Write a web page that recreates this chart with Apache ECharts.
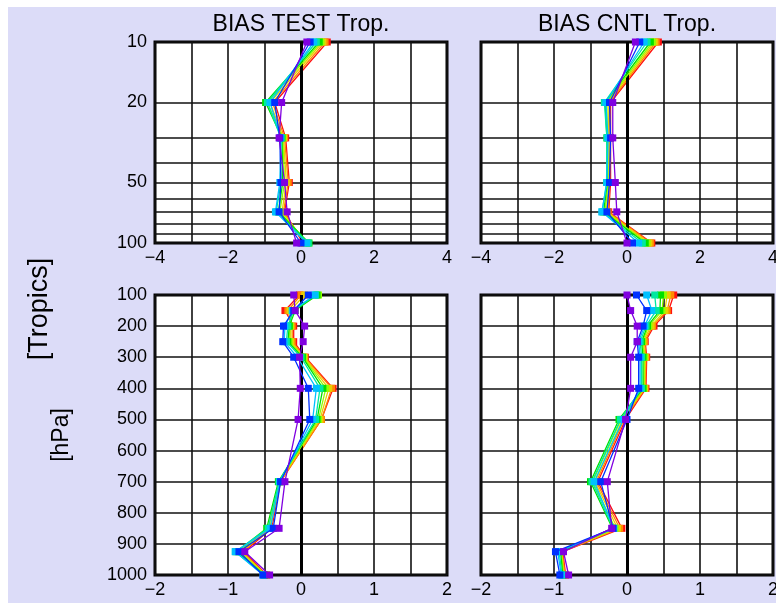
<!DOCTYPE html>
<html>
<head>
<meta charset="utf-8">
<script src="https://cdn.jsdelivr.net/npm/echarts@6/dist/echarts.min.js"></script>
<style>
html,body{margin:0;padding:0;background:#fff;}
#bg{position:absolute;left:8px;top:7px;width:768px;height:596px;background:#dcdcf8;}
#chart{position:absolute;left:0;top:0;width:776px;height:603px;}
</style>
</head>
<body>
<div id="bg"></div>
<div id="chart"></div>
<script>
// Pressure levels (hPa)
const P_UPPER = [10, 20, 30, 50, 70, 100];
const P_LOWER = [100, 150, 200, 250, 300, 400, 500, 700, 850, 925, 1000];

// Tick labels
const UPPER_Y_LABELS = [10, 20, 50, 100];
const UPPER_Y_GRID = [10, 20, 30, 40, 50, 60, 70, 80, 90, 100];

// Series (red ... purple), values = bias at each level
const TEST_UPPER = [
  [0.72, -0.72, -0.42, -0.32, -0.45, 0.05],
  [0.66, -0.78, -0.45, -0.35, -0.48, 0.10],
  [0.60, -0.85, -0.48, -0.40, -0.52, 0.15],
  [0.55, -0.92, -0.50, -0.45, -0.58, 0.18],
  [0.50, -0.97, -0.52, -0.50, -0.62, 0.22],
  [0.42, -0.92, -0.55, -0.55, -0.68, 0.20],
  [0.35, -0.85, -0.55, -0.58, -0.70, 0.15],
  [0.25, -0.72, -0.58, -0.55, -0.60, 0.00],
  [0.16, -0.53, -0.60, -0.45, -0.38, -0.12]
];
const CNTL_UPPER = [
  [0.86, -0.45, -0.45, -0.45, -0.50, 0.68],
  [0.80, -0.48, -0.47, -0.48, -0.52, 0.65],
  [0.75, -0.52, -0.50, -0.50, -0.56, 0.60],
  [0.70, -0.56, -0.53, -0.52, -0.60, 0.55],
  [0.64, -0.60, -0.55, -0.54, -0.64, 0.50],
  [0.55, -0.62, -0.55, -0.56, -0.68, 0.42],
  [0.47, -0.58, -0.52, -0.55, -0.69, 0.32],
  [0.35, -0.48, -0.45, -0.48, -0.55, 0.15],
  [0.23, -0.39, -0.39, -0.32, -0.28, 0.00]
];
const TEST_LOWER = [
  [-0.02, -0.22, -0.10, -0.10, 0.06, 0.44, 0.28, -0.28, -0.40, -0.78, -0.47],
  [0.00, -0.18, -0.12, -0.12, 0.05, 0.42, 0.28, -0.28, -0.42, -0.80, -0.48],
  [0.05, -0.15, -0.14, -0.14, 0.04, 0.38, 0.26, -0.29, -0.43, -0.82, -0.48],
  [0.24, -0.12, -0.15, -0.16, 0.03, 0.34, 0.24, -0.30, -0.45, -0.85, -0.49],
  [0.22, -0.08, -0.16, -0.18, 0.02, 0.30, 0.22, -0.31, -0.47, -0.88, -0.50],
  [0.20, -0.10, -0.18, -0.20, 0.00, 0.26, 0.20, -0.30, -0.45, -0.90, -0.51],
  [0.19, -0.12, -0.22, -0.23, -0.05, 0.21, 0.16, -0.29, -0.42, -0.90, -0.52],
  [0.10, -0.10, -0.24, -0.25, -0.10, 0.10, 0.12, -0.28, -0.38, -0.85, -0.52],
  [-0.10, -0.08, 0.05, 0.03, -0.02, -0.01, -0.04, -0.22, -0.30, -0.77, -0.43]
];
const CNTL_LOWER = [
  [0.64, 0.57, 0.37, 0.25, 0.27, 0.26, -0.02, -0.40, -0.07, -0.88, -0.84],
  [0.60, 0.55, 0.35, 0.24, 0.26, 0.25, -0.04, -0.42, -0.10, -0.89, -0.85],
  [0.55, 0.52, 0.33, 0.22, 0.25, 0.24, -0.06, -0.44, -0.13, -0.90, -0.86],
  [0.50, 0.48, 0.30, 0.21, 0.24, 0.23, -0.08, -0.47, -0.16, -0.90, -0.87],
  [0.46, 0.45, 0.28, 0.20, 0.22, 0.22, -0.11, -0.50, -0.20, -0.91, -0.88],
  [0.38, 0.40, 0.26, 0.18, 0.20, 0.20, -0.09, -0.48, -0.19, -0.93, -0.89],
  [0.27, 0.34, 0.24, 0.16, 0.18, 0.18, -0.05, -0.45, -0.18, -0.95, -0.90],
  [0.13, 0.27, 0.22, 0.14, 0.16, 0.16, 0.00, -0.36, -0.19, -0.98, -0.92],
  [0.00, 0.05, 0.14, 0.14, 0.05, 0.05, -0.02, -0.27, -0.21, -0.87, -0.80]
];

const COLORS = ['#ff1010', '#ff8a00', '#e8d000', '#90ff00', '#00e000', '#00e8a0', '#00c0ff', '#0030ff', '#8000e0'];
const FONT = '"Liberation Sans", Arial, sans-serif';

const fmtNum = v => String(v).replace('-', '\u2212');

const chart = echarts.init(document.getElementById('chart'), null, {renderer: 'canvas'});

const gridDefs = [
  {left: 155, top: 42, width: 292, height: 201},
  {left: 481, top: 42, width: 292, height: 201},
  {left: 155, top: 295, width: 292, height: 280},
  {left: 481, top: 295, width: 292, height: 280}
];
const grids = gridDefs.map(g => Object.assign({
  show: true, backgroundColor: '#fff', borderColor: '#000', borderWidth: 3, containLabel: false, outerBoundsMode: 'none'
}, g));

const splitStyle = {show: true, lineStyle: {color: '#111', width: 1.6}};
const labelStyle = {color: '#000', fontFamily: FONT, fontSize: 18};

const xAxes = [0, 1, 2, 3].map(i => {
  const upper = i < 2;
  return {
    type: 'value', gridIndex: i,
    min: upper ? -4 : -2, max: upper ? 4 : 2, interval: upper ? 1 : 0.5,
    axisLine: {show: false}, axisTick: {show: false},
    splitLine: splitStyle,
    axisLabel: Object.assign({
      margin: 6,
      showMinLabel: true, showMaxLabel: true,
      formatter: v => upper ? (v % 2 === 0 ? fmtNum(v) : '') : (Number.isInteger(v) ? fmtNum(v) : '')
    }, labelStyle)
  };
});

const yAxes = [0, 1, 2, 3].map(i => {
  const upper = i < 2;
  const left = i % 2 === 0;
  if (upper) {
    return {
      type: 'log', logBase: 10, gridIndex: i, min: 10, max: 100, inverse: true,
      axisLine: {show: false},
      axisTick: {show: false, customValues: UPPER_Y_GRID},
      splitLine: splitStyle,
      axisLabel: Object.assign({show: left, margin: 8, customValues: UPPER_Y_LABELS, formatter: v => String(v)}, labelStyle)
    };
  }
  return {
    type: 'value', gridIndex: i, min: 100, max: 1000, interval: 100, inverse: true,
    axisLine: {show: false}, axisTick: {show: false},
    splitLine: splitStyle,
    axisLabel: Object.assign({show: left, margin: 8, formatter: v => String(v)}, labelStyle)
  };
});

const panels = [
  {data: TEST_UPPER, levels: P_UPPER},
  {data: CNTL_UPPER, levels: P_UPPER},
  {data: TEST_LOWER, levels: P_LOWER},
  {data: CNTL_LOWER, levels: P_LOWER}
];

const series = [];
panels.forEach((p, i) => {
  // zero reference line
  series.push({
    type: 'line', xAxisIndex: i, yAxisIndex: i, data: [], z: 1, silent: true,
    markLine: {
      silent: true, symbol: ['none', 'none'], label: {show: false}, animation: false,
      lineStyle: {color: '#000', width: 3, type: 'solid'},
      data: [{xAxis: 0}]
    }
  });
  p.data.forEach((vals, k) => {
    series.push({
      type: 'line', xAxisIndex: i, yAxisIndex: i, z: 2 + k,
      data: vals.map((v, j) => [v, p.levels[j]]),
      symbol: 'rect', symbolSize: 7,
      showAllSymbol: true,
      lineStyle: {color: COLORS[k], width: 1.3},
      itemStyle: {color: COLORS[k]},
      animation: false
    });
  });
});

const txt = (x, y, text, size, rot) => ({
  type: 'text', x: x, y: y, rotation: rot || 0, silent: true,
  style: {text: text, fill: '#000', font: size + 'px ' + FONT, textAlign: 'center', textVerticalAlign: 'middle'}
});

chart.setOption({
  animation: false,
  grid: grids,
  xAxis: xAxes,
  yAxis: yAxes,
  series: series,
  graphic: [
    txt(301, 25, 'BIAS TEST Trop.', 23),
    txt(627, 25, 'BIAS CNTL Trop.', 23),
    txt(40, 309, '[Tropics]', 27, Math.PI / 2),
    txt(62, 435, '[hPa]', 23, Math.PI / 2)
  ]
});
</script>
</body>
</html>
